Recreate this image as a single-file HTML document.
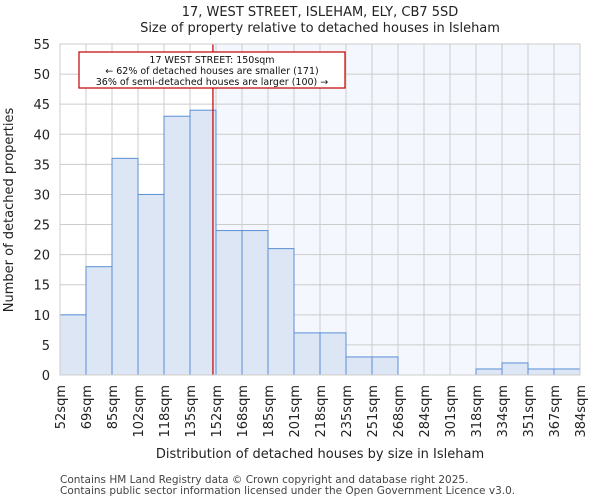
<!DOCTYPE html>
<html><head><meta charset="utf-8"><style>
body{margin:0;background:#fff;font-family:"DejaVu Sans","Liberation Sans",sans-serif}
</style></head><body>
<svg id="c" width="600" height="500" xmlns="http://www.w3.org/2000/svg" font-family="DejaVu Sans, Liberation Sans, sans-serif"></svg>
<script>
const categories=["52sqm","69sqm","85sqm","102sqm","118sqm","135sqm","152sqm","168sqm","185sqm","201sqm","218sqm","235sqm","251sqm","268sqm","284sqm","301sqm","318sqm","334sqm","351sqm","367sqm","384sqm"];
const counts=[10,18,36,30,43,44,24,24,21,7,7,3,3,0,0,0,1,2,1,1];
const yTicks=[0,5,10,15,20,25,30,35,40,45,50,55];
const edges=[52,69,85,102,118,135,152,168,185,201,218,235,251,268,284,301,318,334,351,367,384];
const marker=150;
const svg=document.getElementById('c');
const NS='http://www.w3.org/2000/svg';
const L=60,R=580,T=44,B=375,yMax=55;
const bw=(R-L)/counts.length;
function x(i){return L+i*bw}
function y(v){return B-(v/yMax)*(B-T)}
function xv(v){let i=0;while(i<edges.length-2&&v>edges[i+1])i++;return x(i)+(v-edges[i])/(edges[i+1]-edges[i])*bw}
function el(t,a,txt){const e=document.createElementNS(NS,t);for(const k in a)e.setAttribute(k,a[k]);if(txt!==undefined)e.textContent=txt;svg.appendChild(e);return e}
const mx=xv(marker);
let e;
e=el('rect',{x:L,y:T,width:R-L,height:B-T,fill:'#fff'});


e=el('rect',{x:mx,y:T,width:R-mx,height:B-T,fill:'#f4f7fd'});


yTicks.forEach(t=>{
 e=el('line',{x1:L,x2:R,y1:y(t),y2:y(t),stroke:'#cccccc','stroke-width':1});
 
 
 e=el('text',{x:L-10,y:y(t)+5,'text-anchor':'end','font-size':13,fill:'#222'},t);
 
 
});
categories.forEach((c,i)=>{
 e=el('line',{x1:x(i),x2:x(i),y1:T,y2:B,stroke:'#cccccc','stroke-width':1});
 
 
 const t=el('text',{x:0,y:0,'text-anchor':'end','font-size':13,fill:'#222',transform:`translate(${x(i)+5},${B+10}) rotate(-90)`},c);
 
 
});
counts.forEach((v,i)=>{
 if(v<=0)return;
 e=el('rect',{x:x(i),y:y(v),width:bw,height:B-y(v),fill:'#dce6f4',stroke:'#5b8fd6','stroke-width':1});
 
 
});
e=el('line',{x1:mx,x2:mx,y1:T,y2:B,stroke:'#c00000','stroke-width':1.2});


e=el('rect',{x:79,y:52,width:266,height:36,fill:'#fff',stroke:'#c00000','stroke-width':1.2});


["17 WEST STREET: 150sqm","← 62% of detached houses are smaller (171)","36% of semi-detached houses are larger (100) →"].forEach((s,i)=>{
 e=el('text',{x:212,y:63+i*11,'text-anchor':'middle','font-size':9.5,fill:'#111'},s);
 
 
});
e=el('rect',{x:L,y:T,width:R-L,height:B-T,fill:'none',stroke:'#cccccc'});


e=el('text',{x:320,y:16,'text-anchor':'middle','font-size':13,fill:'#222'},"17, WEST STREET, ISLEHAM, ELY, CB7 5SD");


e=el('text',{x:320,y:32,'text-anchor':'middle','font-size':13,fill:'#222'},"Size of property relative to detached houses in Isleham");


e=el('text',{x:320,y:458,'text-anchor':'middle','font-size':13,fill:'#222'},"Distribution of detached houses by size in Isleham");


e=el('text',{x:0,y:0,'text-anchor':'middle','font-size':13,fill:'#222',transform:'translate(13,210) rotate(-90)'},"Number of detached properties");


e=el('text',{x:60,y:483,'font-size':10.5,fill:'#444'},"Contains HM Land Registry data © Crown copyright and database right 2025.");


e=el('text',{x:60,y:494,'font-size':10.5,fill:'#444'},"Contains public sector information licensed under the Open Government Licence v3.0.");


</script>
</body></html>
